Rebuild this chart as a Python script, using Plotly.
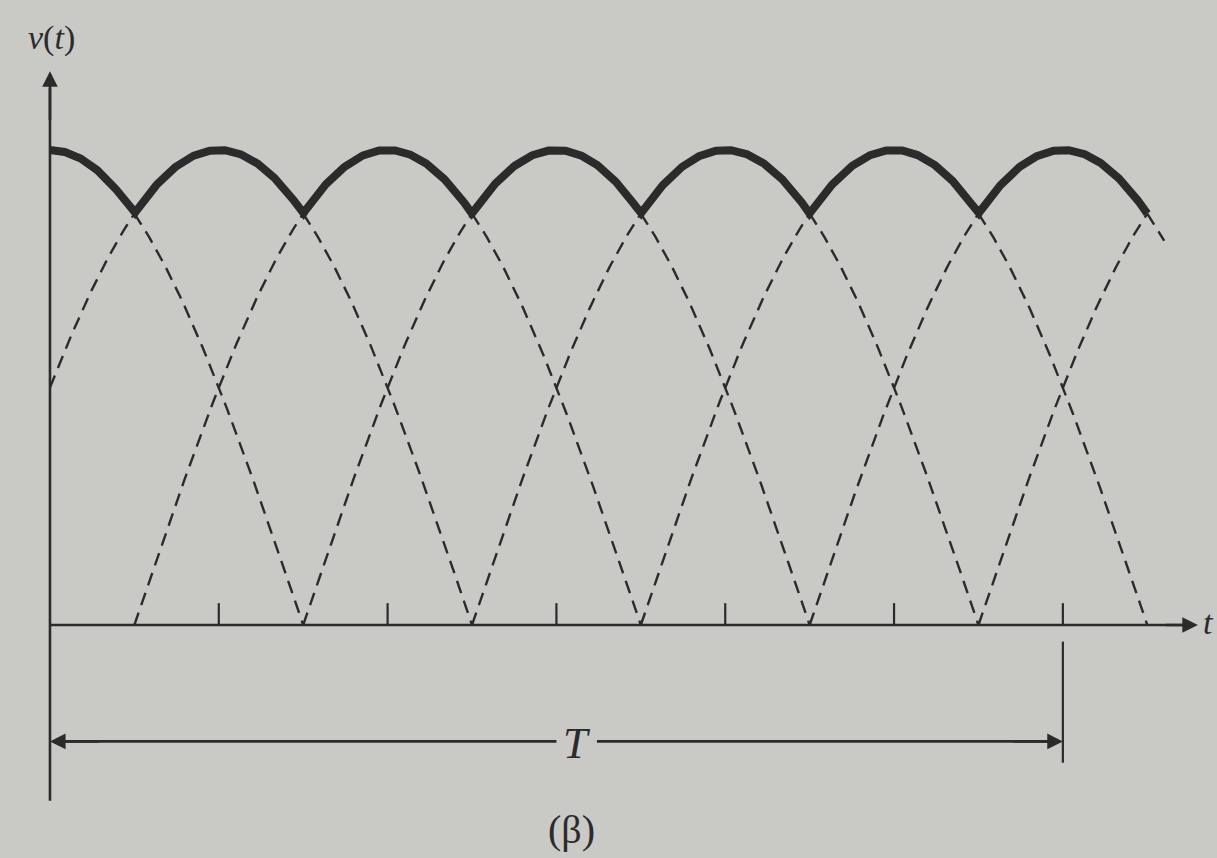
import numpy as np
import plotly.graph_objects as go

# ---- data ----
arc_centers = [0, 1, 2, 3, 4, 5, 6, 7]      # peak positions of the phase half-sines
arc_half_width = 1.5                         # each half-sine spans center +/- 1.5
amplitude = 1.0
envelope_span = [0.0, 6.5]                   # solid (rectified) envelope
dashed_span = [0.0, 6.6]                     # visible window for dashed arcs
tick_positions = [1, 2, 3, 4, 5, 6]
period_T = 6
axis_labels = {"y": "<i>v</i>(<i>t</i>)", "x": "<i>t</i>", "T": "<i>T</i>", "caption": "(β)"}

INK = "#2b2b2b"
BG = "#c9c9c6"
FONT = "Liberation Serif"


def arc(k, t):
    return amplitude * np.cos(np.pi * (t - k) / (2 * arc_half_width))


fig = go.Figure()

# dashed phase arcs (portions below envelope)
for k in arc_centers:
    segs = []
    lo = max(k - arc_half_width, dashed_span[0])
    hi = min(k - 0.5, envelope_span[1])
    if hi > lo:
        segs.append((lo, hi))
    lo = max(k + 0.5, dashed_span[0])
    hi = min(k + arc_half_width, dashed_span[1])
    if hi > lo:
        segs.append((lo, hi))
    for a, b in segs:
        t = np.linspace(a, b, 80)
        fig.add_trace(go.Scatter(x=t, y=arc(k, t), mode="lines",
                                 line=dict(color=INK, width=2.4, dash="13px,8px"),
                                 hoverinfo="skip", showlegend=False))

# solid envelope
t = np.linspace(envelope_span[0], envelope_span[1], 1200)
env = np.max(np.vstack([arc(k, t) for k in arc_centers]), axis=0)
fig.add_trace(go.Scatter(x=t, y=env, mode="lines",
                         line=dict(color=INK, width=8),
                         hoverinfo="skip", showlegend=False))

# time axis line
fig.add_trace(go.Scatter(x=[0, 6.74], y=[0, 0], mode="lines",
                         line=dict(color=INK, width=2.6),
                         hoverinfo="skip", showlegend=False))
# vertical axis line
fig.add_trace(go.Scatter(x=[0, 0], y=[-0.37, 1.13], mode="lines",
                         line=dict(color=INK, width=2.6),
                         hoverinfo="skip", showlegend=False))

# tick marks
tx, ty = [], []
for p in tick_positions:
    tx += [p, p, None]
    ty += [0, 0.046, None]
fig.add_trace(go.Scatter(x=tx, y=ty, mode="lines",
                         line=dict(color=INK, width=2.2),
                         hoverinfo="skip", showlegend=False))

# T dimension: vertical extension line at t = T
fig.add_trace(go.Scatter(x=[period_T, period_T], y=[-0.035, -0.29], mode="lines",
                         line=dict(color=INK, width=2.2),
                         hoverinfo="skip", showlegend=False))
yT = -0.245
fig.add_trace(go.Scatter(x=[0.02, 3.0, None, 3.24, period_T - 0.02], y=[yT, yT, None, yT, yT],
                         mode="lines", line=dict(color=INK, width=2.6),
                         hoverinfo="skip", showlegend=False))

ann = []
# arrowheads
ann.append(dict(x=0, y=1.166, ax=0, ay=1.06, xref="x", yref="y", axref="x", ayref="y",
                showarrow=True, arrowhead=2, arrowsize=1.2, arrowwidth=2.6, arrowcolor=INK, text=""))
ann.append(dict(x=6.8, y=0, ax=6.6, ay=0, xref="x", yref="y", axref="x", ayref="y",
                showarrow=True, arrowhead=2, arrowsize=1.2, arrowwidth=2.6, arrowcolor=INK, text=""))
ann.append(dict(x=0.0, y=yT, ax=0.3, ay=yT, xref="x", yref="y", axref="x", ayref="y",
                showarrow=True, arrowhead=2, arrowsize=1.2, arrowwidth=2.6, arrowcolor=INK, text=""))
ann.append(dict(x=period_T, y=yT, ax=period_T - 0.3, ay=yT, xref="x", yref="y", axref="x", ayref="y",
                showarrow=True, arrowhead=2, arrowsize=1.2, arrowwidth=2.6, arrowcolor=INK, text=""))
# labels
ann.append(dict(x=0.01, y=1.236, xref="x", yref="y", text=axis_labels["y"], showarrow=False,
                font=dict(family=FONT, size=34, color=INK)))
ann.append(dict(x=6.86, y=0.005, xref="x", yref="y", text=axis_labels["x"], showarrow=False,
                font=dict(family=FONT, size=34, color=INK)))
ann.append(dict(x=3.12, y=yT - 0.005, xref="x", yref="y", text=axis_labels["T"], showarrow=False,
                font=dict(family=FONT, size=44, color=INK)))
ann.append(dict(x=3.09, y=-0.43, xref="x", yref="y", text=axis_labels["caption"], showarrow=False,
                font=dict(family=FONT, size=40, color=INK)))

fig.update_layout(
    width=1217, height=858,
    margin=dict(l=0, r=0, t=0, b=0),
    paper_bgcolor=BG, plot_bgcolor=BG,
    xaxis=dict(range=[-0.296, 6.913], visible=False, fixedrange=True),
    yaxis=dict(range=[-0.4905, 1.3158], visible=False, fixedrange=True),
    annotations=ann,
    showlegend=False,
)

fig.write_html("out.html", config={"displayModeBar": False},
               post_script="document.body.style.margin='0';document.body.style.background='" + BG + "';")
